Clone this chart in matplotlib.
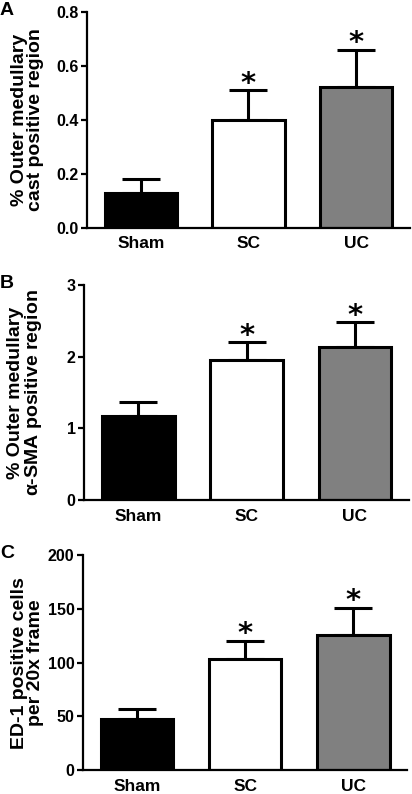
import matplotlib
matplotlib.use('Agg')
import matplotlib.pyplot as plt
import numpy as np

plt.rcParams['font.family'] = ['Liberation Sans', 'DejaVu Sans']
plt.rcParams['font.weight'] = 'bold'
plt.rcParams['mathtext.fontset'] = 'custom'
plt.rcParams['mathtext.it'] = 'Liberation Sans:bold'

# data
groups = ['Sham', 'SC', 'UC']
colors = ['black', 'white', '#808080']

cast_mean = [0.13, 0.40, 0.52]
cast_sem = [0.05, 0.11, 0.14]

sma_mean = [1.18, 1.95, 2.14]
sma_sem = [0.19, 0.25, 0.34]

ed1_mean = [48, 103, 126]
ed1_sem = [9, 17, 25]

panels = [
    ('A', cast_mean, cast_sem, '% Outer medullary\ncast positive region',
     [0.0, 0.2, 0.4, 0.6, 0.8], ['0.0', '0.2', '0.4', '0.6', '0.8'],
     [0.211, 0.713, 0.784, 0.272]),
    ('B', sma_mean, sma_sem, '% Outer medullary\n$\\alpha$-SMA positive region',
     [0, 1, 2, 3], ['0', '1', '2', '3'],
     [0.204, 0.370, 0.789, 0.271]),
    ('C', ed1_mean, ed1_sem, 'ED-1 positive cells\nper 20x frame',
     [0, 50, 100, 150, 200], ['0', '50', '100', '150', '200'],
     [0.201, 0.030, 0.788, 0.271]),
]

fig = plt.figure(figsize=(4.12, 7.94), dpi=100)

for letter, mean, sem, ylab, ticks, ticklabels, pos in panels:
    ax = fig.add_axes(pos)
    x = np.arange(len(groups))
    # upper error bar only, drawn under the bars
    ax.errorbar(x, mean, yerr=[np.zeros(len(sem)), sem], fmt='none',
                ecolor='black', elinewidth=2.2, capsize=14, capthick=2.2, zorder=1)
    ax.bar(x, mean, width=0.67, color=colors, edgecolor='black',
           linewidth=2.2, zorder=2)
    for xi, m, s in zip(x, mean, sem):
        if xi > 0:
            ax.annotate('*', (xi, m + s), xytext=(0, -1), textcoords='offset points',
                        ha='center', va='baseline', fontsize=21,
                        fontweight='bold', family='DejaVu Sans')
    ax.set_xlim(-0.5, 2.5)
    ax.set_ylim(0, ticks[-1])
    ax.set_yticks(ticks)
    ax.set_yticklabels(ticklabels, fontsize=11.5, fontweight='bold')
    ax.set_xticks(x)
    ax.set_xticklabels(groups, fontsize=12.5, fontweight='bold')
    ax.tick_params(axis='x', length=0, pad=6)
    ax.tick_params(axis='y', length=4.5, width=1.6, pad=1.5)
    ax.spines['top'].set_visible(False)
    ax.spines['right'].set_visible(False)
    ax.spines['left'].set_linewidth(1.6)
    ax.spines['bottom'].set_linewidth(1.6)
    ax.set_ylabel(ylab, fontsize=14, fontweight='bold', linespacing=0.95)
    left_px = pos[0] * 412
    width_px = pos[2] * 412
    ax.yaxis.set_label_coords((44 - left_px) / width_px, 0.5)
    fig.text(0.0, pos[1] + pos[3] + 0.013, letter, fontsize=14,
             fontweight='bold', ha='left', va='top')

fig.savefig('out.png', dpi=100)
